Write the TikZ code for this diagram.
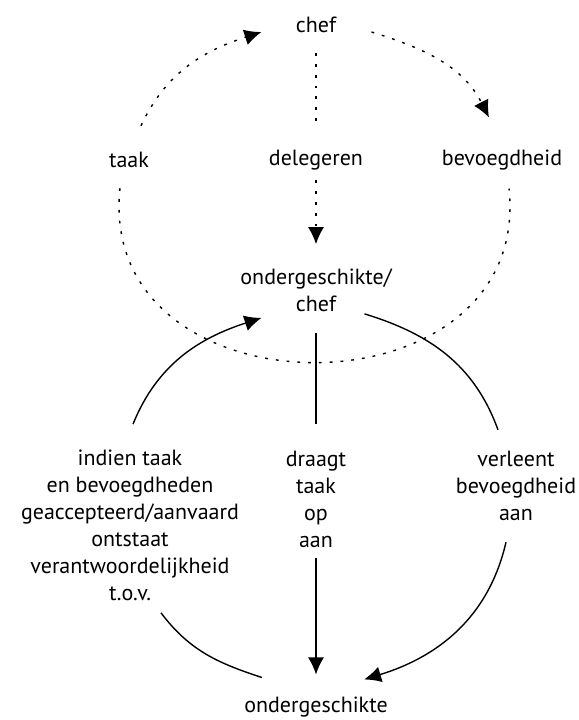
\documentclass[tikz,border=0pt]{standalone}
\usepackage{fontspec}
\setmainfont{PT Sans}
\usetikzlibrary{arrows.meta}

\tikzset{
  lbl/.style={inner sep=2pt, align=center, font=\fontsize{11}{13.5}\selectfont},
  dots/.style={line width=0.7pt, dash pattern=on 1.4pt off 4pt},
  solid line/.style={line width=0.7pt}
}

\begin{document}
\begin{tikzpicture}[x=0.5pt,y=0.5pt,>={Latex[length=8.5pt,width=8pt]}]
			
			\useasboundingbox (0,0) rectangle (579,720);
			
			% labels
			\node[lbl] (Chef) at (316,695) {chef};
			\node[lbl] (Taak) at (129,560) {taak};
			\node[lbl] (Deleg) at (316,560) {delegeren};
			\node[lbl] (Bevoeg) at (502,560) {bevoegdheid};
			\node[lbl] (SubChef) at (316,430) {ondergeschikte/\\chef};
			\node[lbl] (Indien) at (130,195) {indien taak\\en bevoegdheden\\geaccepteerd/aanvaard\\ontstaat\\verantwoordelijkheid\\t.o.v.};
			\node[lbl] (Draagt) at (316,221) {draagt\\taak\\op\\aan};
			\node[lbl] (Verleent) at (516,234) {verleent\\bevoegdheid\\aan};
			\node[lbl] (Onder) at (316,13) {ondergeschikte};
			
			% dotted upper circle
			\draw[dots,->] ([xshift=6pt,yshift=11pt]Taak.north) to[out=65,in=198] ([xshift=-15pt,yshift=-3.5pt]Chef.west);
			\draw[dots,->] ([xshift=15.5pt,yshift=-3.5pt]Chef.east) to[out=-17,in=117] ([xshift=-6.5pt,yshift=14pt]Bevoeg.north);
			\draw[dots,shorten <=8pt,shorten >=9pt] (Chef.south) -- (Deleg.north);
			\draw[dots,->,shorten <=3pt,shorten >=10pt] (Deleg.south) -- (SubChef.north);
			\draw[dots] ([xshift=-4.5pt,yshift=-8pt]Taak.south) to[out=-96,in=-84,looseness=1.54] ([xshift=3.5pt,yshift=-7pt]Bevoeg.south);
			
			% solid lower circle
			\draw[solid line,->] ([xshift=1.5pt,yshift=10.5pt]Indien.north) to[out=68,in=198] ([xshift=12.75pt,yshift=-1pt]SubChef.south west);
			\draw[solid line] ([xshift=-15.75pt,yshift=1pt]SubChef.south east) to[out=-17,in=110] ([xshift=-9pt,yshift=8.5pt]Verleent.north);
			\draw[solid line,->] ([xshift=-5pt,yshift=-8.5pt]Verleent.south) to[out=-103,in=17] ([xshift=-14pt,yshift=6.5pt]Onder.north east);
			\draw[solid line] ([xshift=15.5pt,yshift=-4pt]Indien.south) to[out=-53,in=162] ([xshift=11pt,yshift=7.5pt]Onder.north west);
			%
			\draw[solid line,shorten <=8.5pt,shorten >=11pt] (SubChef.south) -- (Draagt.north);
			\draw[solid line,->,shorten <=3pt,shorten >=9pt] (Draagt.south) -- (Onder.north);
			
\end{tikzpicture}
\end{document}
